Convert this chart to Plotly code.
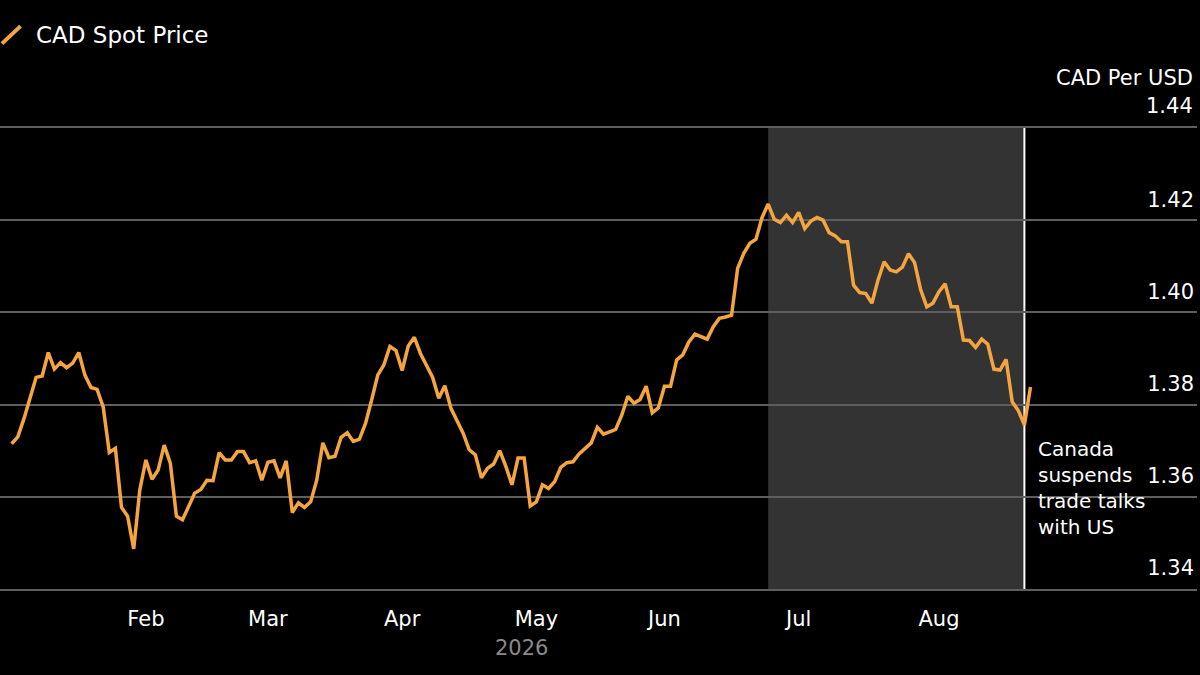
import pandas as pd
import plotly.graph_objects as go

# CAD per USD, one value per trading day from 1 Jan 2026
cad_values = [
    1.3715, 1.3730, 1.3769, 1.3813, 1.3859, 1.3862, 1.3913, 1.3877, 1.3891, 1.3880,
    1.3890, 1.3913, 1.3864, 1.3837, 1.3833, 1.3795, 1.3696, 1.3705, 1.3577, 1.3558,
    1.3487, 1.3615, 1.3680, 1.3638, 1.3658, 1.3712, 1.3673, 1.3558, 1.3550, 1.3579,
    1.3608, 1.3616, 1.3636, 1.3635, 1.3696, 1.3680, 1.3680, 1.3698, 1.3698, 1.3674,
    1.3678, 1.3636, 1.3675, 1.3678, 1.3641, 1.3678, 1.3566, 1.3587, 1.3577, 1.3589,
    1.3636, 1.3717, 1.3685, 1.3688, 1.3729, 1.3739, 1.3720, 1.3725, 1.3759, 1.3810,
    1.3864, 1.3886, 1.3926, 1.3917, 1.3874, 1.3927, 1.3946, 1.3911, 1.3886, 1.3859,
    1.3814, 1.3841, 1.3792, 1.3767, 1.3738, 1.3702, 1.3691, 1.3641, 1.3662, 1.3671,
    1.3700, 1.3666, 1.3626, 1.3684, 1.3684, 1.3580, 1.3589, 1.3626, 1.3618, 1.3633,
    1.3664, 1.3674, 1.3676, 1.3693, 1.3704, 1.3717, 1.3751, 1.3736, 1.3741, 1.3746,
    1.3777, 1.3818, 1.3803, 1.3811, 1.3840, 1.3782, 1.3793, 1.3840, 1.3840, 1.3897,
    1.3908, 1.3936, 1.3953, 1.3948, 1.3942, 1.3969, 1.3987, 1.3990, 1.3994, 1.4096,
    1.4128, 1.4150, 1.4159, 1.4206, 1.4235, 1.4202, 1.4195, 1.4211, 1.4195, 1.4217,
    1.4182, 1.4198, 1.4206, 1.4200, 1.4173, 1.4166, 1.4153, 1.4153, 1.4059, 1.4043,
    1.4041, 1.4020, 1.4070, 1.4110, 1.4092, 1.4088, 1.4098, 1.4127, 1.4108, 1.4049,
    1.4012, 1.4020, 1.4045, 1.4062, 1.4012, 1.4012, 1.3940, 1.3939, 1.3924, 1.3942,
    1.3931, 1.3877, 1.3875, 1.3898, 1.3806, 1.3787, 1.3756, 1.3838,
]
dates = pd.bdate_range("2026-01-01", periods=len(cad_values))

month_ticks = ["2026-02-02", "2026-03-02", "2026-04-01", "2026-05-01",
               "2026-06-01", "2026-07-01", "2026-08-03"]
month_labels = ["Feb", "Mar", "Apr", "May", "Jun", "Jul", "Aug"]
y_ticks = [1.34, 1.36, 1.38, 1.40, 1.42, 1.44]
y_top = 1.44

shade_start = "2026-06-24"
event_date = "2026-08-21"
event_text = "Canada<br>suspends<br>trade talks<br>with US"

ORANGE = "#f5a53f"
GRID = "#5e5e5e"
FONT = "DejaVu Sans"

fig = go.Figure()
fig.add_trace(go.Scatter(
    x=dates, y=cad_values, mode="lines", name="CAD Spot Price",
    line=dict(color=ORANGE, width=3.5), hoverinfo="skip"))

# shaded period and event marker
fig.add_shape(type="rect", xref="x", yref="paper", x0=shade_start, x1=event_date,
              y0=0, y1=1, fillcolor="#333333", line_width=0, layer="below")
fig.add_shape(type="line", xref="x", yref="paper", x0=event_date, x1=event_date,
              y0=0, y1=1, line=dict(color="white", width=2), layer="between")

# legend-like key at top left
fig.add_shape(type="line", xref="paper", yref="paper", x0=0.0016, y0=1.183,
              x1=0.0172, y1=1.221, line=dict(color=ORANGE, width=4))
fig.add_annotation(xref="paper", yref="paper", x=0.0284, y=1.2017, text="CAD Spot Price",
                   showarrow=False, xanchor="left", yanchor="middle",
                   font=dict(family=FONT, size=23, color="white"))
fig.add_annotation(xref="paper", yref="paper", x=0.9983, y=1.1085, text="CAD Per USD",
                   showarrow=False, xanchor="right", yanchor="middle",
                   font=dict(family=FONT, size=21, color="white"))
# top tick label sits above the plot edge, plotly hides it, so write it here
fig.add_annotation(xref="paper", yref="y", x=0.9983, y=y_top, yshift=22,
                   text=f"{y_top:.2f}", showarrow=False, xanchor="right",
                   yanchor="middle", font=dict(family=FONT, size=21, color="white"))
fig.add_annotation(xref="paper", yref="paper", x=0.4353, y=-0.128, text="2026",
                   showarrow=False, xanchor="center", yanchor="middle",
                   font=dict(family=FONT, size=21, color="#8a8a8a"))
fig.add_annotation(xref="x", yref="paper", x=event_date, xshift=12, y=0.335,
                   text=event_text, showarrow=False, xanchor="left", yanchor="top",
                   align="left", font=dict(family=FONT, size=20, color="white"))

fig.update_layout(
    width=1200, height=675,
    paper_bgcolor="black", plot_bgcolor="black",
    margin=dict(l=0, r=3, t=128, b=86),
    showlegend=False,
    font=dict(family=FONT, size=21, color="white"),
    xaxis=dict(
        range=["2025-12-30 02:00", "2026-09-30 07:00"],
        rangebreaks=[dict(bounds=["sat", "mon"])],
        tickvals=month_ticks, ticktext=month_labels,
        ticks="outside", ticklen=10, tickcolor="black",
        showgrid=False, zeroline=False,
        showline=True, mirror=True, linecolor=GRID, linewidth=1.5,
        tickfont=dict(family=FONT, size=21, color="white"),
    ),
    yaxis=dict(
        range=[1.34, 1.44], side="right",
        tickvals=y_ticks, ticktext=[f"{v:.2f}" for v in y_ticks],
        ticklabelposition="inside", ticklabelshift=-21,
        showgrid=True, gridcolor=GRID, gridwidth=1.5,
        zeroline=False, showline=False, ticks="",
        tickfont=dict(family=FONT, size=21, color="white"),
    ),
)

fig.write_html("out.html", config={"displayModeBar": False}, post_script=(
    "document.body.style.margin='0';"
    "document.body.style.background='black';"))
